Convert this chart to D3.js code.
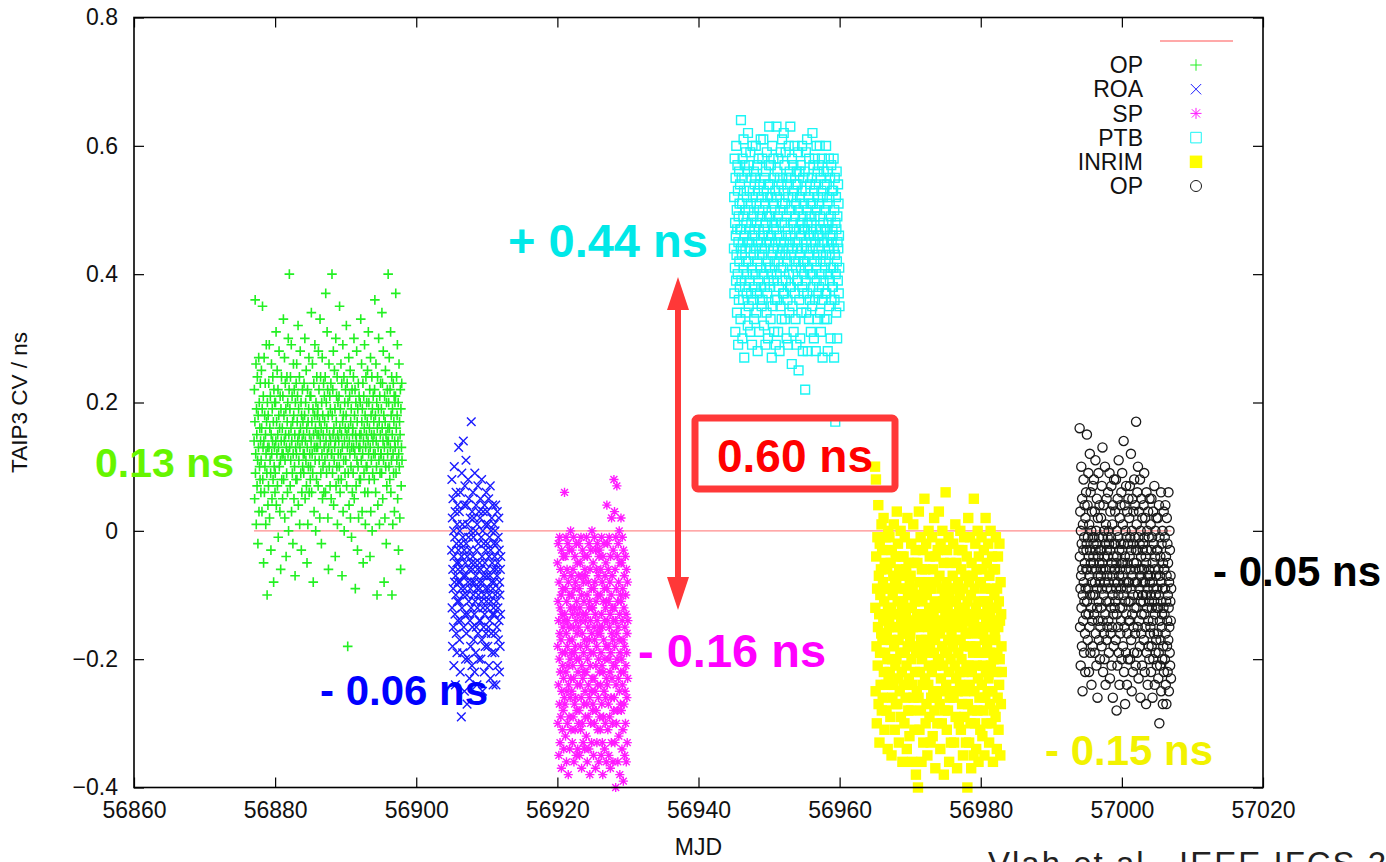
<!DOCTYPE html>
<html>
<head>
<meta charset="utf-8">
<script src="https://cdn.jsdelivr.net/npm/d3@7/dist/d3.min.js"></script>
<style>
body { margin: 0; background: #fff; }
svg { display: block; font-family: "Liberation Sans", Arial, Helvetica, sans-serif; }
</style>
</head>
<body>
<svg id="chart" width="1386" height="862"></svg>
<script>
// axis ticks
var xTicks = [56860, 56880, 56900, 56920, 56940, 56960, 56980, 57000, 57020];
var yTicks = [-0.4, -0.2, 0, 0.2, 0.4, 0.6, 0.8];

// zero reference line (first, untitled key entry)
var refX = [56877, 57007];
var refY = [0, 0];

// CV readings per MJD, in the order taken through the day, units of 0.01 ns

// OP (green +)
var opDays = [56877, 56878, 56879, 56880, 56881, 56882, 56883, 56884, 56885, 56886, 56887,
  56888, 56889, 56890, 56891, 56892, 56893, 56894, 56895, 56896, 56897];
var opVals = [
  [14,22,5,17,36,9,12,26,1,19,15,7,24,11,-2,18,13,27,3,20,10,16,8,23,14,6],
  [11,25,16,3,19,35,8,13,21,-5,14,27,6,18,10,23,15,1,12,29,17,9,-10,20,13,4],
  [18,7,23,13,29,2,16,11,21,9,-3,15,26,12,5,19,14,24,8,17,-8,22,10,13,20,6],
  [9,20,14,31,4,17,12,25,7,15,22,-1,13,18,28,10,16,3,21,11,-6,19,14,24,8,12],
  [16,5,21,12,33,8,18,14,27,2,11,23,15,19,-4,13,9,24,17,6,20,12,30,0,15,22],
  [40,13,19,7,24,11,16,29,3,14,21,9,17,-2,12,26,18,5,22,10,15,-7,20,13,8,23],
  [12,26,8,17,21,14,32,4,19,11,15,24,1,13,28,16,9,20,-3,18,6,14,22,10,17,12],
  [15,9,23,12,18,30,5,14,20,11,25,7,16,-5,13,22,1,17,10,19,27,6,15,12,21,8],
  [10,21,14,34,6,17,12,26,9,19,-8,15,23,3,13,18,29,11,16,0,20,13,8,24,15,18],
  [13,19,7,28,15,22,11,17,2,33,14,24,9,16,-2,20,12,27,5,18,10,15,23,6,13,21],
  [17,11,24,6,37,14,20,9,16,31,12,22,2,18,-6,13,26,10,15,21,7,19,14,23,5,12],
  [12,40,18,9,22,15,28,4,16,11,25,13,19,-4,14,30,7,17,21,10,24,1,15,20,12,8],
  [14,21,10,35,16,6,19,12,26,8,15,23,-7,13,17,29,3,18,11,24,0,14,20,9,16,22],
  [11,18,32,7,15,23,13,-18,20,9,16,27,4,14,21,12,25,2,17,10,19,-1,13,22,6,15],
  [16,9,24,13,30,5,18,12,22,-9,15,20,7,14,28,11,17,-3,19,10,23,2,13,21,8,15],
  [13,20,8,33,15,11,26,17,3,19,12,23,-5,14,21,9,16,29,6,18,1,13,24,10,15,20],
  [10,17,25,6,14,31,12,20,8,16,22,-4,13,27,3,18,11,15,24,0,19,9,14,21,12,17],
  [15,8,22,36,12,18,6,26,14,10,20,-10,16,24,4,13,19,30,11,17,1,21,9,15,23,12],
  [12,19,9,34,16,23,5,14,28,11,18,-8,13,21,2,17,25,10,15,-2,20,7,14,22,12,16],
  [40,14,20,10,27,16,8,22,13,31,6,18,11,24,-10,15,19,1,12,23,9,17,21,3,14,20],
  [13,21,37,9,16,24,11,18,29,5,14,20,-3,12,26,10,17,2,15,22,-6,19,7,13,23,11]
];

// ROA (blue x)
var roaDays = [56905, 56906, 56907, 56908, 56909, 56910, 56911];
var roaVals = [
  [-3,8,-12,2,-18,-6,5,-9,-15,0,-21,-4,10,-8,-1,-13,3,-24,-7,-10,6,-16,-2,-5,-19,1,-11,4,-14,-6,-8,-3],
  [13,-5,-11,3,-17,0,-8,-22,6,-14,-2,-9,-29,-4,9,-12,-6,1,-19,-1,-10,14,-7,-15,4,-3,-25,-9,7,-13,-5,-20],
  [-7,11,-2,-16,4,-10,-27,-4,1,-13,-8,8,-20,-1,-11,5,-6,-23,-3,-14,2,-9,-18,0,-12,17,-5,-8,-21,3,-15,-6],
  [-4,6,-10,-1,-17,2,-8,-13,-22,9,-5,-11,0,-19,-7,4,-15,-3,-9,-24,1,-12,-6,7,-16,-2,-10,-20,3,-8,-14,-5],
  [-9,2,-14,5,-6,-20,-1,-11,8,-17,-4,-8,-25,0,-12,3,-7,-15,-2,-10,-22,4,-13,-5,-18,1,-9,-3,-16,6,-11,-7],
  [-6,3,-12,-2,-18,1,-9,-15,5,-21,-4,-10,-1,-14,-7,7,-23,-3,-11,0,-16,-8,2,-19,-5,-13,4,-9,-24,-6,-12,-2],
  [-8,1,-13,-4,-19,0,-10,-16,4,-24,-6,-11,-2,-15,-7,3,-21,-5,-12,-1,-17,-9,2,-14,-3,-22,-8,-10,-18,-6,-13,-4]
];

// SP (magenta *)
var spDays = [56920, 56921, 56922, 56923, 56924, 56925, 56926, 56927, 56928, 56929];
var spVals = [
  [-5,-18,-30,-11,-2,-24,-14,-35,-8,-20,-27,-1,-16,-33,-12,-22,-6,-29,-17,-10,-37,-3,-25,-13,-19,-31,-9,-21,-15,-28,-4,-23,-34,-14,-7,-26],
  [6,-13,-27,-4,-19,-32,-9,-22,-1,-16,-36,-11,-25,-6,-18,-30,-14,-2,-21,-38,-8,-24,-15,-29,-3,-17,-34,-10,-20,-26,-12,0,-23,-31,-7,-19],
  [-10,-25,-3,-17,-33,-13,-21,-6,-29,-15,-1,-23,-36,-9,-19,-27,-12,-4,-31,-18,-8,-26,-14,-35,-2,-20,-11,-28,-16,-5,-24,-34,-13,-22,-7,-30],
  [-15,-2,-28,-9,-20,-35,-12,-24,-5,-18,-31,-14,-1,-26,-10,-37,-21,-7,-16,-30,-3,-23,-13,-33,-8,-19,-27,-11,-4,-22,-34,-17,-6,-25,-14,-29],
  [-7,-22,-13,-32,-1,-18,-27,-10,-36,-4,-20,-15,-29,-8,-24,-12,-34,-2,-17,-26,-11,-38,-6,-21,-14,-30,-3,-19,-25,-9,-33,-16,0,-23,-12,-28],
  [-12,-27,-5,-19,-35,-9,-23,-15,-1,-30,-17,-8,-25,-13,-37,-3,-21,-11,-28,-6,-18,-33,-14,-2,-24,-10,-31,-16,-7,-26,-20,-36,-4,-15,-22,-29],
  [-3,-16,-31,-10,-24,-6,-19,-35,-13,-1,-27,-21,-8,-33,-15,-38,-4,-22,-11,-29,-17,-2,-25,-9,-34,-14,-20,-7,-30,-12,-26,-5,-18,-36,-23,-11],
  [4,-9,-24,-14,-2,-31,-18,-6,-27,-11,-35,-20,-1,-15,-29,-8,-22,-13,-37,-4,-19,-26,-10,-33,2,-16,-23,-7,-30,-12,-17,-36,-3,-21,-14,-28],
  [8,-12,-26,3,-18,-33,-6,-21,-14,-40,-1,-24,-9,-30,-16,7,-20,-4,-28,-11,-36,-15,-2,-23,-8,-32,-17,0,-25,-13,-38,-5,-19,-27,-10,-22],
  [2,-11,-28,-5,-20,-34,-14,-1,-24,-9,-31,-17,-39,-3,-22,-12,-27,-7,-18,-35,-15,-25,-4,-30,-10,-21,-13,-36,-6,-19,-26,-16,-33,-8,-23,-14]
];

// PTB (cyan open squares)
var ptbDays = [56945, 56946, 56947, 56948, 56949, 56950, 56951, 56952, 56953, 56954, 56955,
  56956, 56957, 56958, 56959];
var ptbVals = [
  [44,52,37,58,41,48,31,55,46,39,60,43,50,34,47,57,40,53,29,45,49,36,56,42,51,38,54,47,33,44],
  [64,47,39,55,43,51,30,58,45,36,49,61,41,53,27,46,57,38,50,44,34,59,42,48,37,52,40,56,45,32],
  [62,42,50,35,57,45,39,53,47,31,59,44,51,37,48,55,41,29,46,60,40,52,36,49,43,56,33,47,54,38],
  [46,55,40,60,44,34,51,48,37,57,42,28,53,45,39,58,47,31,50,43,54,36,49,41,61,45,38,52,35,44],
  [43,58,36,50,46,61,40,53,32,47,55,44,38,51,29,48,56,41,45,34,59,49,37,52,42,30,54,46,39,57],
  [63,45,38,54,41,49,33,57,46,40,52,27,48,60,43,35,51,44,58,39,47,31,55,42,50,36,53,45,29,48],
  [47,63,40,52,36,56,44,49,31,58,42,53,38,46,28,55,43,50,35,59,45,41,54,33,48,61,39,51,44,37],
  [41,53,62,45,37,57,48,33,51,43,59,39,46,55,30,49,42,54,36,47,29,52,44,60,40,50,34,56,45,38],
  [63,46,38,55,43,50,26,58,44,35,52,48,40,57,31,47,53,42,60,37,49,45,33,54,41,51,29,56,44,39],
  [45,54,39,59,42,25,50,47,36,56,43,52,30,48,57,41,46,34,53,44,60,38,49,28,55,42,51,37,47,40],
  [42,56,47,22,53,39,59,45,34,50,44,61,37,48,28,55,41,52,46,33,58,43,49,36,54,40,51,31,47,45],
  [48,40,55,35,62,44,51,38,57,46,30,53,42,49,58,36,45,54,28,47,41,60,39,50,43,33,56,46,52,37],
  [44,57,38,51,46,60,34,49,42,55,31,47,53,40,58,36,45,27,52,43,48,39,56,45,50,33,54,41,47,37],
  [42,50,60,37,47,54,33,45,51,28,56,40,48,44,58,35,52,43,39,55,46,30,49,41,57,36,45,53,38,47],
  [46,38,53,41,58,44,27,50,36,55,43,17,48,40,52,34,47,56,42,30,49,45,39,54,44,51,37,46,41,35]
];

// INRIM (yellow filled squares)
var inrimDays = [56965, 56966, 56967, 56968, 56969, 56970, 56971, 56972, 56973, 56974, 56975,
  56976, 56977, 56978, 56979, 56980, 56981, 56982];
var inrimVals = [
  [10,-12,-25,8,-4,-18,-30,-9,-1,-21,-15,4,-27,-7,-13,-33,-2,-19,-10,-24,-6,-16,1,-28],
  [-3,-17,-26,-8,-14,2,-22,-11,-31,-5,-19,-13,-1,-24,-9,-28,-16,-6,-20,-34,-12,0,-23,-15],
  [-14,-1,-22,-9,-29,-5,-17,-12,-35,-3,-20,-26,-10,-15,-7,-24,1,-18,-13,-31,-8,-21,-4,-27],
  [-8,-20,3,-15,-27,-11,-2,-23,-17,-33,-6,-13,-25,-9,-19,0,-29,-14,-4,-22,-12,-36,-16,-7],
  [-11,-4,-24,-16,-30,-1,-19,-9,-26,-13,-6,-21,-34,-15,2,-18,-10,-28,-5,-23,-14,-32,-8,-17],
  [-16,-7,-28,-2,-20,-12,-36,-24,-9,-15,1,-26,-18,-5,-31,-11,-22,-14,-3,-38,-19,-10,-25,-13],
  [-5,-19,-40,-10,-26,3,-15,-31,-8,-22,-13,-1,-28,-17,-36,-6,-20,-11,-24,-3,-33,-14,-9,-18],
  [5,-13,-23,-6,-30,-17,-2,-27,-10,-19,-35,-8,-15,-24,0,-21,-12,-29,-4,-18,-9,-33,-14,-26],
  [-9,-22,-1,-16,-32,-6,-25,-13,-19,2,-28,-11,-17,-37,-4,-21,-14,-8,-26,-15,-30,-3,-20,-12],
  [-12,3,-20,-7,-27,-16,-34,-2,-23,-14,-9,-30,-18,0,-25,-11,-21,-5,-38,-15,-28,-10,-19,-13],
  [6,-15,-24,-8,-31,-3,-19,-12,-28,-17,-1,-22,-36,-10,-26,-14,-5,-20,-33,-9,-16,-25,-11,-18],
  [-7,-18,-2,-26,-13,-33,-9,-21,-15,1,-29,-11,-23,-5,-17,-37,-14,-25,-8,-19,-3,-30,-12,-22],
  [-10,-24,0,-17,-31,-6,-20,-13,-27,-3,-15,-35,-9,-22,-18,-1,-29,-12,-25,-7,-16,-33,-14,-21],
  [-4,-16,-40,-11,-27,2,-21,-8,-33,-14,-24,-1,-18,-30,-10,-37,-5,-22,-13,-28,-7,-19,-15,-35],
  [5,-14,-25,-9,-30,-2,-18,-12,-34,-6,-21,-16,-28,0,-23,-11,-36,-4,-19,-26,-8,-15,-31,-13],
  [-8,-19,-1,-24,-13,-32,-6,-21,-16,-28,-3,-11,-35,-17,-9,-26,2,-22,-14,-30,-5,-18,-12,-25],
  [-11,-2,-23,-15,-33,-7,-19,-27,-13,0,-21,-9,-30,-17,-4,-25,-12,-36,-6,-20,-14,-28,-10,-16],
  [-6,-17,-29,-1,-22,-12,-34,-9,-19,-26,-4,-15,-31,-11,-24,-2,-20,-14,-35,-8,-27,-13,-18,-22]
];

// OP (black open circles)
var op2Days = [56994, 56995, 56996, 56997, 56998, 56999, 57000, 57001, 57002, 57003, 57004,
  57005, 57006];
var op2Vals = [
  [16,-4,-15,3,-9,-21,0,-7,10,-12,-2,-18,5,-6,-25,-10,1,-14,-3,8,-8,-19,-1,-11,4,-5,-16,-22,2,-9,-13,6,-6,-3],
  [-2,15,-11,-6,4,-17,-1,-9,9,-13,-4,-22,1,-7,-15,12,-3,-10,-19,6,-5,-12,0,-24,-8,3,-14,-6,-1,-18,7,-10,-4,-2],
  [-5,8,-13,-1,-19,3,-8,-10,11,-3,-16,-6,0,-21,-9,5,-12,-2,-26,-7,2,-14,-4,9,-11,-17,-1,-5,4,-8,-20,-3,-15,-6],
  [-7,2,-12,-3,-18,7,-9,-5,13,-14,-1,-22,-6,4,-10,-16,0,-4,-20,-8,10,-2,-13,-24,-6,1,-11,-17,5,-3,-9,-7,-15,-1],
  [-4,6,-14,-8,0,-19,-2,-11,9,-6,-23,-3,3,-16,-9,-1,-12,7,-21,-5,-15,1,-7,-10,-26,4,-13,-4,-18,-2,8,-8,-6,-12],
  [-6,3,-11,-2,-17,8,-9,-5,-28,-13,0,-4,-21,5,-8,-15,-1,-10,11,-19,-7,-3,-24,2,-12,-6,-16,4,-2,-9,-14,6,-20,-5],
  [-3,9,-12,-7,1,-18,-5,-10,14,-2,-22,-8,-15,4,-4,-27,-11,0,-6,-19,7,-13,-1,-9,-24,3,-16,-5,-8,-2,-20,5,-11,-14],
  [-8,2,-14,-4,7,-20,-1,-11,-6,12,-17,-3,-9,-25,0,-13,5,-7,-22,-2,-10,3,-15,-5,-19,8,-12,-1,-8,-16,4,-6,-21,-3],
  [17,-5,-12,1,-8,-19,6,-3,-15,10,-10,-1,-23,-6,3,-14,-9,-2,-18,8,-7,-26,0,-11,-4,-16,5,-13,-6,-21,2,-8,-3,-10],
  [-2,-11,4,-17,-6,9,-13,-1,-22,-8,2,-15,-4,-10,-27,-5,6,-19,-3,-12,0,-9,-24,-7,3,-14,-18,-1,-11,-6,-20,5,-8,-16],
  [-7,-15,1,-10,-22,-3,5,-18,-12,-1,-8,-26,-5,-14,3,-20,-9,-2,-16,-11,7,-6,-24,-13,-4,0,-19,-10,-7,-17,2,-12,-21,-3],
  [-9,-3,-16,2,-12,-23,-6,-19,4,-10,-30,-1,-14,-7,-21,-4,-17,-11,6,-25,-8,-2,-15,-13,-20,0,-9,-27,-5,-18,-12,3,-22,-6],
  [-6,-13,-1,-20,-9,4,-16,-24,-4,-11,-27,-7,2,-18,-14,-2,-22,-10,-5,-17,6,-12,-25,-8,-15,0,-19,-3,-21,-11,-7,-14,-23,-9]
];

// key and annotation text
var keyLabels = ["OP", "ROA", "SP", "PTB", "INRIM", "OP"];
var offsetLabels = ["0.13 ns", "- 0.06 ns", "- 0.16 ns", "+ 0.44 ns", "- 0.15 ns", "- 0.05 ns"];
var spanLabel = "0.60 ns";

var width = 1386, height = 862;
var margin = {top: 17.5, right: 123, bottom: 74.5, left: 134};

var svg = d3.select("#chart");

var x = d3.scaleLinear().domain([56860, 57020]).range([margin.left, width - margin.right]);
var y = d3.scaleLinear().domain([-0.4, 0.8]).range([height - margin.bottom, margin.top]);

// readings of one day are spread over that day in the order listed
function flat(days, vals) {
  var out = [];
  days.forEach(function(d, i) {
    var n = vals[i].length;
    vals[i].forEach(function(v, k) { out.push([d + (k + 0.5) / n, v / 100]); });
  });
  return out;
}

// marker path builders (gnuplot style point types)
function plusPath(r) { return "M" + (-r) + ",0H" + r + "M0," + (-r) + "V" + r; }
function crossPath(r) { return "M" + (-r) + "," + (-r) + "L" + r + "," + r + "M" + (-r) + "," + r + "L" + r + "," + (-r); }
function starPath(r) { return plusPath(r) + crossPath(r * 0.75); }
function squarePath(r) { return "M" + (-r) + "," + (-r) + "H" + r + "V" + r + "H" + (-r) + "Z"; }
function circlePath(r) { return "M" + r + ",0A" + r + "," + r + " 0 1,1 " + (-r) + ",0A" + r + "," + r + " 0 1,1 " + r + ",0"; }

var series = [
  {label: keyLabels[0], pts: flat(opDays, opVals), path: plusPath, r: 4.8, stroke: "#22f022", fill: "none", sw: 1.6},
  {label: keyLabels[1], pts: flat(roaDays, roaVals), path: crossPath, r: 4.3, stroke: "#1a1aff", fill: "none", sw: 1.4},
  {label: keyLabels[2], pts: flat(spDays, spVals), path: starPath, r: 4.6, stroke: "#ff1aff", fill: "none", sw: 1.4},
  {label: keyLabels[3], pts: flat(ptbDays, ptbVals), path: squarePath, r: 4.4, stroke: "#1af5f5", fill: "none", sw: 1.4},
  {label: keyLabels[4], pts: flat(inrimDays, inrimVals), path: squarePath, r: 5.2, stroke: "none", fill: "#ffff00", sw: 0},
  {label: keyLabels[5], pts: flat(op2Days, op2Vals), path: circlePath, r: 4.6, stroke: "#1a1a1a", fill: "none", sw: 1.3}
];

// zero reference line goes under the points
svg.append("line")
  .attr("x1", x(refX[0])).attr("x2", x(refX[1]))
  .attr("y1", y(refY[0])).attr("y2", y(refY[1]))
  .attr("stroke", "#ff8c8c").attr("stroke-width", 1.2);

series.forEach(function(s) {
  svg.append("g")
    .selectAll("path")
    .data(s.pts)
    .enter().append("path")
    .attr("transform", function(d) { return "translate(" + x(d[0]) + "," + y(d[1]) + ")"; })
    .attr("d", s.path(s.r))
    .attr("fill", s.fill)
    .attr("stroke", s.stroke)
    .attr("stroke-width", s.sw);
});

// axes with inward ticks on all four sides
var tickFont = 23;
var gx = svg.append("g").attr("transform", "translate(0," + (height - margin.bottom) + ")")
  .call(d3.axisBottom(x).tickValues(xTicks).tickFormat(d3.format("d")).tickSizeInner(-10).tickSizeOuter(0).tickPadding(14));
var gxt = svg.append("g").attr("transform", "translate(0," + margin.top + ")")
  .call(d3.axisTop(x).tickValues(xTicks).tickFormat("").tickSizeInner(-10).tickSizeOuter(0));
var gy = svg.append("g").attr("transform", "translate(" + margin.left + ",0)")
  .call(d3.axisLeft(y).tickValues(yTicks).tickFormat(d3.format("")).tickSizeInner(-10).tickSizeOuter(0).tickPadding(16));
var gyr = svg.append("g").attr("transform", "translate(" + (width - margin.right) + ",0)")
  .call(d3.axisRight(y).tickValues(yTicks).tickFormat("").tickSizeInner(-10).tickSizeOuter(0));

[gx, gxt, gy, gyr].forEach(function(g) {
  g.select(".domain").remove();
  g.selectAll("line").attr("stroke", "#000").attr("stroke-width", 1.2);
  g.selectAll("text").attr("font-size", tickFont).attr("fill", "#111")
    .attr("font-family", "'Liberation Sans', Arial, sans-serif");
});

svg.append("rect")
  .attr("x", margin.left).attr("y", margin.top)
  .attr("width", width - margin.left - margin.right)
  .attr("height", height - margin.top - margin.bottom)
  .attr("fill", "none").attr("stroke", "#000").attr("stroke-width", 1.6);

// axis titles
svg.append("text")
  .attr("x", (margin.left + width - margin.right) / 2).attr("y", 855)
  .attr("text-anchor", "middle").attr("font-size", tickFont).attr("fill", "#111")
  .text("MJD");

svg.append("text")
  .attr("transform", "translate(27," + ((margin.top + height - margin.bottom) / 2) + ") rotate(-90)")
  .attr("text-anchor", "middle").attr("font-size", 22.5).attr("fill", "#111")
  .text("TAIP3 CV / ns");

// key
var key = svg.append("g");
key.append("line")
  .attr("x1", 1160).attr("x2", 1233).attr("y1", 41).attr("y2", 41)
  .attr("stroke", "#ff8c8c").attr("stroke-width", 1.5);
series.forEach(function(s, i) {
  var ky = 65 + i * 24.2;
  key.append("text")
    .attr("x", 1143).attr("y", ky).attr("dy", "0.36em")
    .attr("text-anchor", "end").attr("font-size", 23).attr("fill", "#111")
    .text(s.label);
  key.append("path")
    .attr("transform", "translate(1196," + ky + ")")
    .attr("d", s.path(s.r * 1.2))
    .attr("fill", s.fill).attr("stroke", s.stroke).attr("stroke-width", 1);
});

// offset annotations
var notes = [
  {t: offsetLabels[0], x: 95, y: 477, size: 41, color: "#66f500"},
  {t: offsetLabels[1], x: 320, y: 705, size: 42, color: "#0000ff"},
  {t: offsetLabels[2], x: 638, y: 667, size: 47, color: "#ff00ff"},
  {t: offsetLabels[3], x: 508, y: 257, size: 47, color: "#00e8e8"},
  {t: offsetLabels[4], x: 1045, y: 765, size: 42, color: "#f2f200"},
  {t: offsetLabels[5], x: 1213, y: 586, size: 42, color: "#000"}
];
svg.append("g").selectAll("text").data(notes).enter().append("text")
  .attr("x", function(d) { return d.x; })
  .attr("y", function(d) { return d.y; })
  .attr("font-size", function(d) { return d.size; })
  .attr("font-weight", "bold")
  .attr("fill", function(d) { return d.color; })
  .text(function(d) { return d.t; });

// double arrow spanning the PTB - SP difference
var arrowX = 678, aTop = 277, aBot = 610, headW = 11, headL = 33;
svg.append("line")
  .attr("x1", arrowX).attr("x2", arrowX).attr("y1", aTop + headL - 2).attr("y2", aBot - headL + 2)
  .attr("stroke", "#ff3838").attr("stroke-width", 6);
svg.append("path")
  .attr("d", "M" + arrowX + "," + aTop + "L" + (arrowX + headW) + "," + (aTop + headL) + "L" + (arrowX - headW) + "," + (aTop + headL) + "Z" +
    "M" + arrowX + "," + aBot + "L" + (arrowX + headW) + "," + (aBot - headL) + "L" + (arrowX - headW) + "," + (aBot - headL) + "Z")
  .attr("fill", "#ff3838");

svg.append("rect")
  .attr("x", 695).attr("y", 418).attr("width", 200).attr("height", 71)
  .attr("rx", 3)
  .attr("fill", "none").attr("stroke", "#ff3838").attr("stroke-width", 7);
svg.append("text")
  .attr("x", 795).attr("y", 472).attr("text-anchor", "middle")
  .attr("font-size", 46).attr("font-weight", "bold").attr("fill", "#ff0000")
  .text(spanLabel);

// source line, cut by the bottom edge as in the slide
svg.append("text")
  .attr("x", 988).attr("y", 875).attr("font-size", 33).attr("letter-spacing", 2)
  .attr("fill", "#222")
  .text("Vlah et al., IEEE IFCS 2015");
</script>
</body>
</html>
